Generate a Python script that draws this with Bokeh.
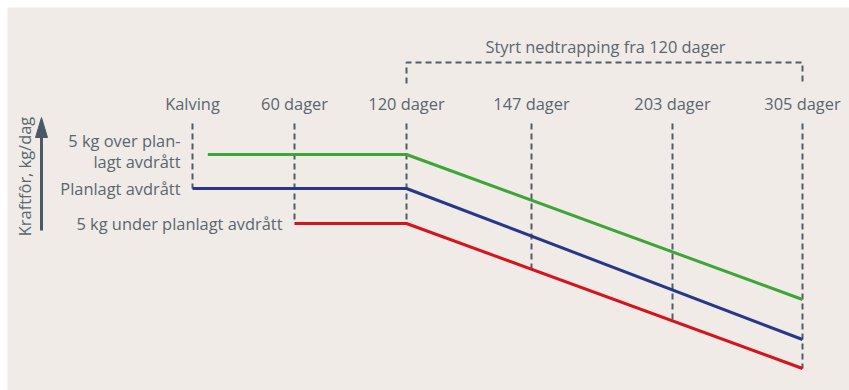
import numpy as np
from bokeh.plotting import figure
from bokeh.models import Range1d
from bokeh.core.properties import value
from bokeh.embed import file_html
from bokeh.resources import INLINE

# Milestones in the lactation (days after calving) and their labels
milestone_days = [0, 60, 120, 147, 203, 305]
milestone_labels = ["Kalving", "60 dager", "120 dager", "147 dager", "203 dager", "305 dager"]
# Schematic horizontal position of each milestone (the time axis is not to scale)
milestone_pos = [192, 294, 406, 531, 672, 802]

# Concentrate feeding curves: days and schematic feed level (kg/dag, relative)
over_days = [9, 120, 305]
over_level = [236, 236, 91]
plan_days = [0, 120, 305]
plan_level = [202, 202, 51]
under_days = [60, 120, 305]
under_level = [167, 167, 22]

title_text = "Styrt nedtrapping fra 120 dager"
y_label = "Kraftfôr, kg/dag"

FONT = "Open Sans"
FS = "16.4px"
TEXT = "#5b6670"
DASH = "#505c68"
BG = "#f0ebe7"
GREEN = "#3ea636"
BLUE = "#26388a"
RED = "#d5141c"


def xpos(days):
    return np.interp(days, milestone_days, milestone_pos)


p = figure(width=849, height=390, output_backend="svg", toolbar_location=None,
           x_range=Range1d(7, 849), y_range=Range1d(0, 383),
           min_border_left=7, min_border_top=7, min_border_right=0, min_border_bottom=0)
p.axis.visible = False
p.grid.visible = False
p.outline_line_color = None
p.background_fill_color = BG
p.border_fill_color = "white"

curves = [(over_days, over_level, GREEN), (plan_days, plan_level, BLUE), (under_days, under_level, RED)]

# Dashed milestone markers, from the label row down to the lowest curve present on that day
top = 267
for d in milestone_days:
    x = float(xpos(d))
    lows = [np.interp(x, xpos(cd), cl) for cd, cl, _ in curves if cd[0] <= d <= cd[-1]]
    p.line([x, x], [top, min(lows)], line_color=DASH, line_width=2, line_dash="6 4")

# Bracket marking the controlled reduction period
bx0, bx1 = float(xpos(120)), float(xpos(305))
p.line([bx0, bx0, bx1, bx1], [307, 328, 328, 307], line_color=DASH, line_width=2, line_dash="6 4")

# Feeding curves
for cd, cl, col in curves:
    p.line(xpos(cd), cl, line_color=col, line_width=3)

# Milestone labels
p.text(x=xpos(milestone_days), y=[287] * len(milestone_days), text=milestone_labels,
       text_font=value(FONT), text_font_size=FS, text_color=TEXT,
       text_align="center", text_baseline="middle")

p.text(x=[605], y=[344], text=[title_text], text_font=value(FONT), text_font_size=FS,
       text_color=TEXT, text_align="center", text_baseline="middle")

# Curve labels on the left
p.text(x=[180, 180], y=[250, 229], text=["5 kg over plan-", "lagt avdrått"],
       text_font=value(FONT), text_font_size=FS, text_color=TEXT,
       text_align="right", text_baseline="middle")
p.text(x=[180], y=[202], text=["Planlagt avdrått"], text_font=value(FONT), text_font_size=FS,
       text_color=TEXT, text_align="right", text_baseline="middle")
p.text(x=[282], y=[167], text=["5 kg under planlagt avdrått"], text_font=value(FONT),
       text_font_size=FS, text_color=TEXT, text_align="right", text_baseline="middle")

# Vertical axis arrow and label
p.segment(x0=[41], y0=[160], x1=[41], y1=[255], line_color="#4a5966", line_width=3)
p.patch([35, 47, 41], [253, 253, 273], fill_color="#4a5966", line_color="#4a5966")
p.text(x=[24], y=[214], text=[y_label], angle=np.pi / 2, text_font=value(FONT),
       text_font_size=FS, text_color=TEXT, text_align="center", text_baseline="middle")

open("out.html", "w").write(file_html(p, INLINE))
